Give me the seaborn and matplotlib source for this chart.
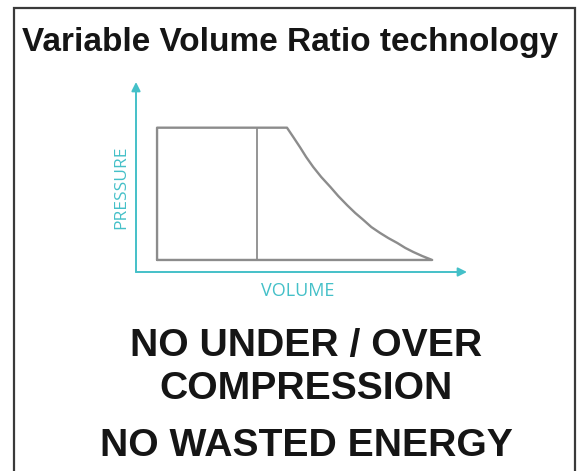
import matplotlib
matplotlib.use("Agg")
import matplotlib.pyplot as plt
from matplotlib.patches import Rectangle
import seaborn as sns
import pandas as pd

# --- Data (arbitrary P-V units) ---
V_MAX = 22.8          # end of the volume axis
P_MAX = 13.1          # end of the pressure axis
V_START = 1.45        # left side of the cycle
V_SPLIT = 8.35        # inner vertical line
P_HIGH = 9.95
P_LOW = 0.83

# expansion curve, points
curve_v = [10.4, 10.83, 11.3, 11.72, 12.2, 12.76, 13.4, 13.93, 14.55, 15.1,
           15.65, 16.21, 16.8, 17.38, 18.0, 18.55, 19.1, 19.72, 20.4]
curve_p = [9.95, 9.31, 8.6, 7.93, 7.25, 6.55, 5.85, 5.24, 4.6, 4.07,
           3.6, 3.1, 2.7, 2.34, 2.0, 1.66, 1.38, 1.1, 0.83]

cycle_v = [V_START, V_START] + curve_v + [V_START]
cycle_p = [P_LOW, P_HIGH] + curve_p + [P_LOW]

title = "Variable Volume Ratio technology"
lines = ["NO UNDER / OVER", "COMPRESSION", "NO WASTED ENERGY"]

CYAN = "#44c0c8"
GREY = "#8c8c8c"

sns.set_theme(style="white")
plt.rcParams["font.family"] = ["Liberation Sans", "DejaVu Sans"]

fig = plt.figure(figsize=(5.77, 4.71), dpi=100)
fig.patch.set_facecolor("white")

# --- outer frame ---
fig.patches.append(Rectangle((14 / 577, -0.05), (575 - 14) / 577, 1 - 8 / 471 + 0.05,
                             transform=fig.transFigure, fill=False,
                             edgecolor="#3a3a3a", lw=1.6))

# --- P-V diagram ---
ax = fig.add_axes([136 / 577, (471 - 272) / 471, (467 - 136) / 577, (272 - 82) / 471])
ax.set_xlim(0, V_MAX)
ax.set_ylim(0, P_MAX)
ax.axis("off")

df = pd.DataFrame({"volume": cycle_v, "pressure": cycle_p})
sns.lineplot(data=df, x="volume", y="pressure", sort=False, estimator=None,
             color=GREY, lw=1.7, ax=ax)
ax.plot([V_SPLIT, V_SPLIT], [P_LOW, P_HIGH], color=GREY, lw=1.3)

arrow = dict(arrowstyle="-|>", color=CYAN, lw=1.4, mutation_scale=13,
             shrinkA=0, shrinkB=0)
ax.annotate("", xy=(1, 0), xytext=(0, 0), xycoords="axes fraction",
            arrowprops=arrow, annotation_clip=False)
ax.annotate("", xy=(0, 1), xytext=(0, 0), xycoords="axes fraction",
            arrowprops=arrow, annotation_clip=False)

fig.text(121 / 577, 1 - 187 / 471, "PRESSURE", rotation=90, color=CYAN,
         fontsize=12.5, family=["Open Sans", "DejaVu Sans"],
         ha="center", va="center")
fig.text(298 / 577, 1 - 291 / 471, "VOLUME", color=CYAN,
         fontsize=13, family=["Open Sans", "DejaVu Sans"],
         ha="center", va="center")

# --- texts ---
fig.text(290 / 577, 1 - 51 / 471, title, fontsize=24, fontweight="bold",
         color="#151515", ha="center", va="baseline")
for txt, base in zip(lines, [356, 399, 456]):
    fig.text(306 / 577, 1 - base / 471, txt, fontsize=28.2, fontweight="bold",
             color="#151515", ha="center", va="baseline")

fig.savefig("out.png", dpi=100, facecolor="white")
